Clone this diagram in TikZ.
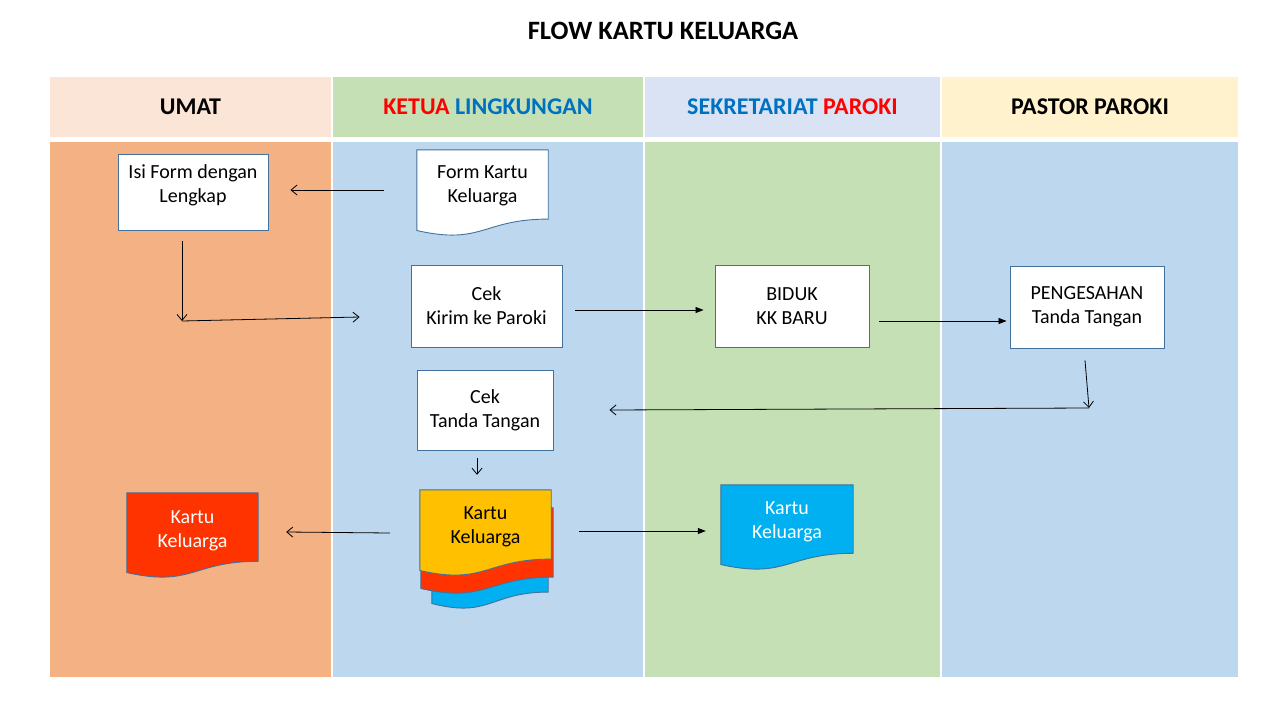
\documentclass[tikz,border=0pt]{standalone}
\usepackage{fontspec}
\setmainfont{Carlito}
\usetikzlibrary{arrows.meta,calc}
\definecolor{hUmat}{HTML}{FBE5D6}
\definecolor{hKetua}{HTML}{C5E0B4}
\definecolor{hSekr}{HTML}{DAE3F3}
\definecolor{hPastor}{HTML}{FFF2CC}
\definecolor{bUmat}{HTML}{F4B183}
\definecolor{bBlue}{HTML}{BDD7EE}
\definecolor{bGreen}{HTML}{C5E0B4}
\definecolor{edgeBlue}{HTML}{41719C}
\definecolor{tRed}{HTML}{FF0000}
\definecolor{tBlue}{HTML}{0070C0}
\definecolor{dOrange}{HTML}{FFC000}
\definecolor{dRed}{HTML}{FF3300}
\definecolor{dBlue}{HTML}{00B0F0}
\newcommand\mydocshape[2]{\filldraw[docline, fill=#2] (#1.north west) -- (#1.north east) -- ($(#1.north east)!0.802!(#1.south east)$) .. controls ($(#1.north)!0.802!(#1.south)$) and ($(#1.north)!1.107!(#1.south)$) .. ($(#1.north west)!0.934!(#1.south west)$) -- cycle;}
\begin{document}
\begin{tikzpicture}[x=1pt,y=-1pt,
  lane/.style={draw=none, inner sep=0, minimum height=535},
  hdr/.style={draw=none, inner sep=0, minimum height=60, font=\fontsize{24}{28}\selectfont\bfseries},
  box/.style={draw=edgeBlue, fill=white, line width=0.9pt, align=center, inner sep=0, font=\fontsize{20}{24}\selectfont},
  frm/.style={draw=none, inner sep=0},
  txt/.style={align=center, inner sep=0, font=\fontsize{20}{24}\selectfont},
  docline/.style={draw=edgeBlue, line width=0.9pt},
  oa/.style={-{Straight Barb[length=6pt,width=10pt]}, line width=0.8pt},
  fa/.style={-{Triangle[length=8pt,width=6pt]}, line width=0.8pt}]
\useasboundingbox[fill=white] (0,0) rectangle (1280,720);
% title
\node[inner sep=0, font=\fontsize{26.5}{30}\selectfont\bfseries] (title) at (663,31) {FLOW KARTU KELUARGA};
% headers
\node[hdr, fill=hUmat, minimum width=281] (h1) at (190.5,107) {UMAT};
\node[hdr, fill=hKetua, minimum width=310] (h2) at (488,107) {\textcolor{tRed}{KETUA} \textcolor{tBlue}{LINGKUNGAN}};
\node[hdr, fill=hSekr, minimum width=295] (h3) at (792.5,107) {\textcolor{tBlue}{SEKRETARIAT} \textcolor{tRed}{PAROKI}};
\node[hdr, fill=hPastor, minimum width=296] (h4) at (1090,107) {PASTOR PAROKI};
% lanes
\node[lane, fill=bUmat, minimum width=281] (l1) at (190.5,409.5) {};
\node[lane, fill=bBlue, minimum width=310] (l2) at (488,409.5) {};
\node[lane, fill=bGreen, minimum width=295] (l3) at (792.5,409.5) {};
\node[lane, fill=bBlue, minimum width=296] (l4) at (1090,409.5) {};
% boxes
\node[box, minimum width=150, minimum height=76] (isi) at (193,192) {Isi Form dengan\\Lengkap\\[-8pt]\mbox{}};
\node[box, minimum width=151, minimum height=82] (ck) at (486.5,306) {Cek\\Kirim ke Paroki};
\node[box, minimum width=154, minimum height=82] (bd) at (792,306) {BIDUK\\KK BARU};
\node[box, minimum width=154, minimum height=82] (ps) at (1087,307) {PENGESAHAN\\Tanda Tangan};
\node[box, minimum width=136, minimum height=80] (ct) at (485,410) {Cek\\Tanda Tangan};
% document frames
\node[frm, minimum width=131, minimum height=86] (fk) at (482.5,193) {};
\node[frm, minimum width=131, minimum height=85] (rd) at (192.5,535.5) {};
\node[frm, minimum width=116, minimum height=86] (mb) at (490,566) {};
\node[frm, minimum width=132, minimum height=86] (mr) at (487,551) {};
\node[frm, minimum width=131, minimum height=86] (mo) at (485.5,533) {};
\node[frm, minimum width=132, minimum height=85] (bl) at (787,527.5) {};
% document shapes
\mydocshape{fk}{white}
\mydocshape{rd}{dRed}
\mydocshape{mb}{dBlue}
\mydocshape{mr}{dRed}
\mydocshape{mo}{dOrange}
\mydocshape{bl}{dBlue}
% document texts
\node[txt] (fkt) at ($(fk.north)!0.42!(fk.south)$) {Form Kartu\\Keluarga};
\node[txt, text=white] (rdt) at ($(rd.north)!0.45!(rd.south)$) {Kartu\\Keluarga};
\node[txt] (mot) at ($(mo.north)!0.43!(mo.south)$) {Kartu\\Keluarga};
\node[txt, text=white] (blt) at ($(bl.north)!0.43!(bl.south)$) {Kartu\\Keluarga};
% connectors
\coordinate (c1) at (182,321);
\coordinate (c2) at (1089,408);
\draw[oa] ($(fk.west)+(-33,-3)$) -- ($(isi.east)+(22,-2)$);
\draw[oa] ($(isi.south)+(-11,11)$) -- (c1);
\draw[oa] (c1) -- ($(ck.west)+(-51,11)$);
\draw[fa] ($(ck.east)+(13,4)$) -- ($(bd.west)+(-11,4)$);
\draw[fa] ($(bd.east)+(10,15)$) -- ($(ps.west)+(-3,14)$);
\draw[oa] ($(ps.south)+(-2,12)$) -- (c2);
\draw[oa] (c2) -- ($(ct.east)+(56,0)$);
\draw[oa] ($(ct.south)+(-8,8)$) -- ($(mo.north)+(-8.5,-15)$);
\draw[oa] ($(mo.west)+(-30,0)$) -- ($(rd.east)+(28,-3.5)$);
\draw[fa] ($(mo.east)+(28,-2)$) -- ($(bl.west)+(-15,3.5)$);
\end{tikzpicture}
\end{document}
